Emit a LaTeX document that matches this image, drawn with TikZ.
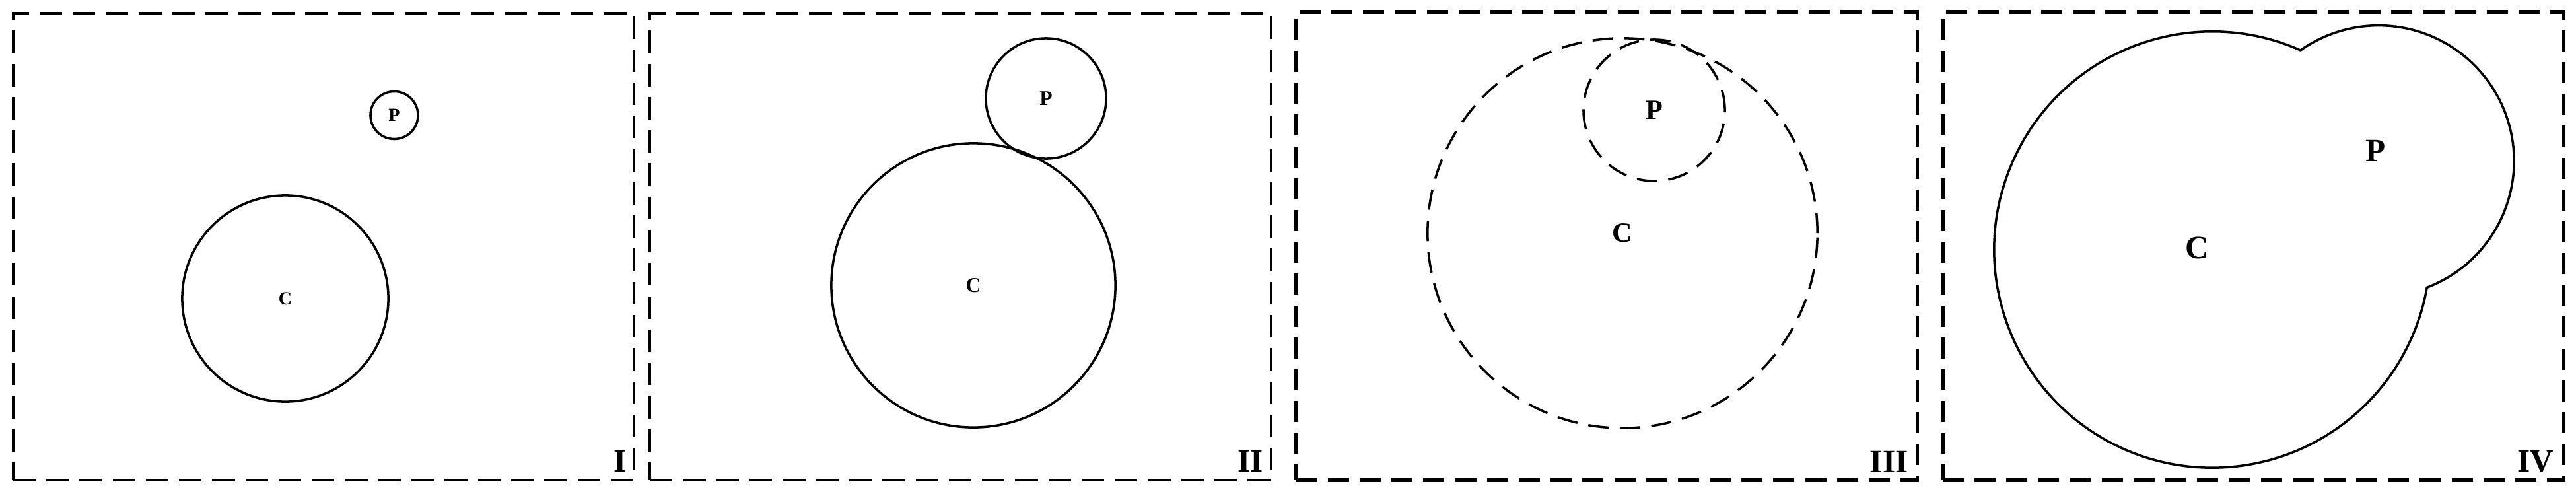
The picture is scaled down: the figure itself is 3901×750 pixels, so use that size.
\documentclass[tikz,border=0pt]{standalone}
\usepackage{fontspec}
\setmainfont{Liberation Serif}
\usetikzlibrary{positioning}

\begin{document}
\begin{tikzpicture}[x=0.01cm,y=0.01cm,
    box/.style={draw,line width=1.1pt,dash pattern=on 9.7pt off 4.6pt,
      minimum width=9.4cm,minimum height=7.07cm,inner sep=0pt},
    boldbox/.style={box,line width=1.6pt,dash pattern=on 9.1pt off 4.6pt,minimum height=7.09cm},
    ring/.style={draw,circle,line width=1pt,inner sep=0pt},
    dring/.style={ring,dash pattern=on 8.8pt off 4.8pt},
    tag/.style={font=\fontsize{#1}{#1}\selectfont\bfseries,inner sep=0pt},
    num/.style={font=\fontsize{14}{16}\selectfont\bfseries,inner sep=0pt}]
    \useasboundingbox (0,0) rectangle (3901,750);

    % frames
    \node[box]     (F1) at (490,376.5)  {};
    \node[box]     (F2) at (1454.5,376.5) {};
    \node[boldbox] (F3) at (2433,377.5) {};
    \node[boldbox] (F4) at (3412,377.5) {};
    \node[num] (N1) [above left=0.14cm and 0.13cm of F1.south east] {I};
    \node[num] (N2) [above left=0.14cm and 0.13cm of F2.south east] {II};
    \node[num] (N3) [above left=0.14cm and 0.16cm of F3.south east] {III};
    \node[num] (N4) [above left=0.14cm and 0.17cm of F4.south east] {IV};

    % I: apart
    \node[ring,minimum size=0.72cm,tag=8] (P1) at (597,575.5) {P};
    \node[ring,minimum size=3.12cm,tag=8] (C1) at (432,298)   {C};

    % II: touching
    \node[ring,minimum size=4.30cm,tag=9] (C2) at (1474,318) {C};
    \node[ring,minimum size=1.82cm,tag=9] (P2) at (1584,601) {P};

    % III: inside
    \node[dring,minimum size=5.90cm,tag=12] (C3) at (2457,397) {C};
    \node[dring,minimum size=2.14cm,tag=12] (P3) at (2505,583) {P};

    % IV: merged
    \coordinate (C4) at (3350,372);
    \coordinate (P4) at (3602,506);
    \draw[line width=1pt] (C4) ++(66.04:3.30cm)
      arc[start angle=66.04,end angle=350,radius=3.30cm]
      arc[start angle=-69.1,end angle=125.2,radius=2.05cm] -- cycle;
    \node[tag=14] (LC4) at (3327,375) {C};
    \node[tag=14] (LP4) at (3597,522) {P};
\end{tikzpicture}
\end{document}
